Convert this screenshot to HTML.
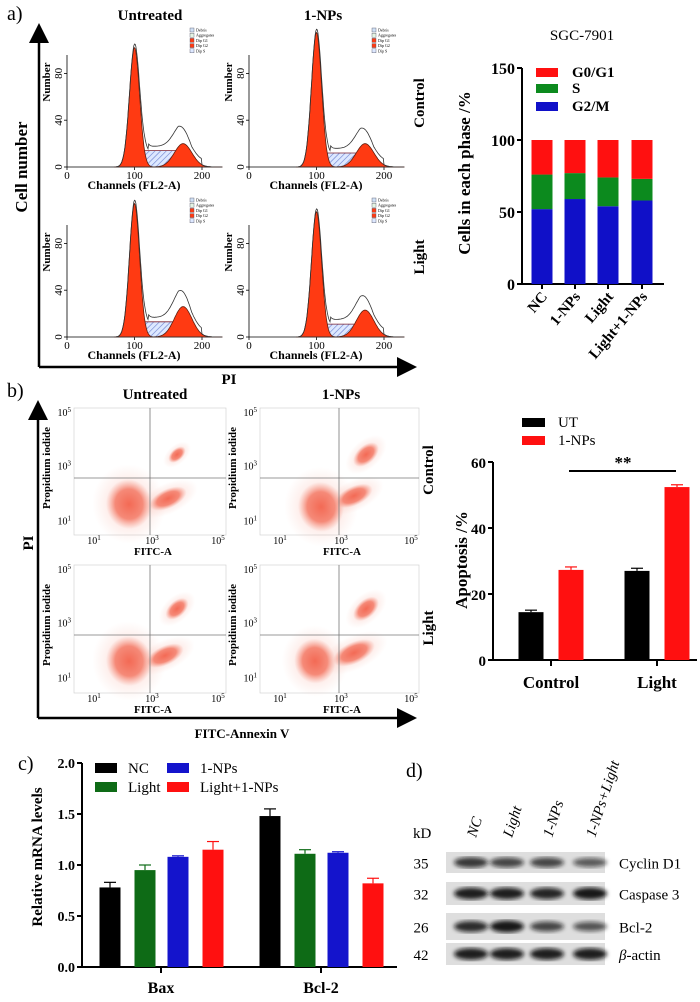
<!DOCTYPE html>
<html><head><meta charset="utf-8"><style>
html,body{margin:0;padding:0;background:#fff}
svg{display:block}
text{font-family:"Liberation Serif",serif;fill:#000}
</style></head><body>
<svg id="fig" width="700" height="1002" viewBox="0 0 700 1002" xmlns="http://www.w3.org/2000/svg">
<defs>
<pattern id="hatch" width="4" height="4" patternUnits="userSpaceOnUse" patternTransform="rotate(45)"><rect width="4" height="4" fill="#dde8ff"/><line x1="0" y1="0" x2="0" y2="4" stroke="#6a7fd0" stroke-width="1.2"/></pattern>
<radialGradient id="dotg"><stop offset="0" stop-color="#f36a55" stop-opacity="1"/><stop offset="0.6" stop-color="#f47a66" stop-opacity="0.85"/><stop offset="1" stop-color="#f7a090" stop-opacity="0"/></radialGradient>
<radialGradient id="halo"><stop offset="0" stop-color="#f59080" stop-opacity="0.45"/><stop offset="1" stop-color="#f8b0a0" stop-opacity="0"/></radialGradient>
<filter id="blur2"><feGaussianBlur stdDeviation="2.2"/></filter>
<marker id="arr" markerWidth="8" markerHeight="8" refX="6" refY="4" orient="auto"><path d="M0,0 L8,4 L0,8 z" fill="#000"/></marker>
</defs>
<g id="root"></g>
</svg>
<script>
// ---------- data ----------
const histG1Height=[102,115,114,107];
const histG2Height=[20,20,26,23];
const histSHeight=[14,12,13,11];
const phaseCats=["NC","1-NPs","Light","Light+1-NPs"];
const g2mVals=[52,59,54,58];
const sVals=[24,18,20,15];
const g01Vals=[24,23,26,27];
const stackTicks=[0,50,100,150];
const apoGroups=["Control","Light"];
const apoUT=[14.5,27.0];
const apoNP=[27.3,52.4];
const apoUTErr=[0.6,0.8];
const apoNPErr=[0.9,0.7];
const apoTicks=[0,20,40,60];
const clusterX=[[2.3,3.6,3.9],[2.4,3.5,3.9],[2.3,3.5,3.9],[2.2,3.5,3.9]];
const clusterY=[[1.6,1.8,3.4],[1.5,1.9,3.4],[1.6,1.8,3.5],[1.6,1.9,3.5]];
const clusterSize=[[1.0,0.8,0.6],[1.0,0.8,0.9],[1.0,0.8,0.8],[0.9,0.9,0.9]];
const genes=["Bax","Bcl-2"];
const mrnaSeries=["NC","Light","1-NPs","Light+1-NPs"];
const mrnaColors=["#000000","#0e6b16","#1414cc","#ff1010"];
const mrnaVals=[[0.78,0.95,1.08,1.15],[1.48,1.11,1.12,0.82]];
const mrnaErr=[[0.05,0.05,0.01,0.08],[0.07,0.04,0.01,0.05]];
const mrnaTicks=[0,0.5,1.0,1.5,2.0];
const blotLanes=["NC","Light","1-NPs","1-NPs+Light"];
const blotProteins=["Cyclin D1","Caspase 3","Bcl-2","β-actin"];
const blotKD=["35","32","26","42"];
const blotIntensity=[[0.75,0.65,0.65,0.5],[0.95,0.95,0.9,1.0],[0.85,1.0,0.65,0.55],[0.95,0.95,0.95,0.95]];

const NS="http://www.w3.org/2000/svg";
const root=document.getElementById('root');
function el(tag,attrs,parent,txt){const e=document.createElementNS(NS,tag);for(const k in attrs)e.setAttribute(k,attrs[k]);if(txt!==undefined)e.textContent=txt;(parent||root).appendChild(e);return e;}
function T(x,y,s,size,opts,name){opts=opts||{};const a={x:x,y:y,'font-size':size,'text-anchor':opts.anchor||'middle'};if(opts.bold)a['font-weight']='bold';if(opts.rot!==undefined)a.transform='rotate('+opts.rot+' '+x+' '+y+')';if(opts.italic)a['font-style']='italic';if(opts.fill)a.fill=opts.fill;if(opts.family)a['font-family']=opts.family;const t=el('text',a,opts.parent,s);return t;}
function L(x1,y1,x2,y2,w,c,name,extra){const l=el('line',Object.assign({x1:x1,y1:y1,x2:x2,y2:y2,stroke:c||'#000','stroke-width':w||1},extra||{}));return l;}
function R(x,y,w,h,f,name,extra){const r=el('rect',Object.assign({x:x,y:y,width:w,height:h,fill:f},extra||{}));return r;}
const SANS='"Liberation Sans",sans-serif';

// ---------- Panel a ----------
T(7,20,'a)',20,{anchor:'start'},'panel-a-label');
T(150,20,'Untreated',15,{bold:true},'col-title-untreated');
T(323,20,'1-NPs',15,{bold:true},'col-title-1nps');
L(39,367,39,28,2.5,'#000','cell-number-axis',{'marker-end':'url(#arr)'});
L(39,367,412,367,2.5,'#000','pi-axis',{'marker-end':'url(#arr)'});
T(27,167,'Cell number',17,{bold:true,rot:-90},'cell-number-title');
T(229,384,'PI',15,{bold:true},'pi-title');
T(424,103,'Control',15,{bold:true,rot:-90},'row-label-control');
T(424,257,'Light',15,{bold:true,rot:-90},'row-label-light');

function gauss(c,m,s,h){return h*Math.exp(-0.5*((c-m)/s)*((c-m)/s));}
const histPos=[[67,167],[249,167],[67,337],[249,337]];
histPos.forEach((p,i)=>{
  const x0=p[0],base=p[1],sx=0.675,sy=1.17;
  const X=c=>x0+c*sx, Y=v=>base-v*sy;
  L(x0,base-112,x0,base,0.8,'#000','hist-y-axis');
  L(x0,base,x0+150,base,0.8,'#000','hist-x-axis');
  [0,100,200].forEach(t=>{L(X(t),base,X(t),base+3,0.8);T(X(t),base+12,String(t),11,{},'hist-x-tick');});
  [0,40,80].forEach(t=>{L(x0-3,Y(t),x0,Y(t),0.8);T(x0-5,Y(t),String(t),11,{rot:-90},'hist-y-tick');});
  T(x0-17,base-85,'Number',11,{bold:true,rot:-90},'hist-y-title');
  T(x0+67,base+22,'Channels (FL2-A)',12,{bold:true},'hist-x-title');
  function comp(fn,fill,stroke,name){let d='M'+X(70)+','+base;for(let c=70;c<=230;c+=1){d+=' L'+X(c).toFixed(1)+','+Y(fn(c)).toFixed(1);}d+=' L'+X(230)+','+base+' Z';const pth=el('path',{d:d,fill:fill,stroke:stroke,'stroke-width':0.8});}
  const S=c=>(c>95&&c<185)?histSHeight[i]*Math.min(1,(c-95)/20,(185-c)/20):0;
  comp(S,'url(#hatch)','#7a2030','s-phase');
  comp(c=>gauss(c,100,7.5,histG1Height[i]),'#ff3a12','#602010','g1-peak');
  comp(c=>gauss(c,172,13,histG2Height[i]),'#ff3a12','#602010','g2-peak');
  comp(c=>gauss(c,100,7.5,histG1Height[i])+gauss(c,172,13,histG2Height[i])+S(c)*0.9+(c>120&&c<200?5:0),'none','#333','hist-outline');
  const lg=['Debris','Aggregates','Dip G1','Dip G2','Dip S'], lc=['#cfe0f5','#e4f5e4','#ff3a12','#ff3a12','#dde8ff'];
  lg.forEach((s,k)=>{R(x0+123,base-139+k*5.2,4,4,lc[k],'hist-legend-swatch',{stroke:'#556','stroke-width':0.4});T(x0+129,base-135.5+k*5.2,s,4,{anchor:'start',fill:'#3344cc',family:SANS},'hist-legend-text');});
});

(function(){
  const ax=522, y0=284, ppu=1.44;
  const Y=v=>y0-v*ppu;
  const cx=[542,575,608,642], bw=21;
  T(582,40,'SGC-7901',15,{},'stacked-title');
  L(ax,Y(150),ax,y0,2,'#000','stacked-y-axis');
  L(ax,y0,664,y0,2,'#000','stacked-x-axis');
  stackTicks.forEach(t=>{L(ax-5,Y(t),ax,Y(t),2);T(ax-7,Y(t)+6,String(t),16,{anchor:'end',bold:true},'stacked-y-tick');});
  T(470,173,'Cells in each phase /%',17,{bold:true,rot:-90,family:SANS},'stacked-y-title');
  phaseCats.forEach((c,i)=>{
    const b1=g2mVals[i], b2=b1+sVals[i], b3=b2+g01Vals[i];
    R(cx[i]-bw/2,Y(b1),bw,Y(0)-Y(b1),'#1010c8','bar-g2m-'+c);
    R(cx[i]-bw/2,Y(b2),bw,Y(b1)-Y(b2),'#0c8a1e','bar-s-'+c);
    R(cx[i]-bw/2,Y(b3),bw,Y(b2)-Y(b3),'#ff1010','bar-g0g1-'+c);
    L(cx[i],y0,cx[i],y0+5,2);
    T(cx[i]+6,y0+13,c,15,{anchor:'end',bold:true,rot:-50},'stacked-x-label');
  });
  const lg=[['G0/G1','#ff1010'],['S','#0c8a1e'],['G2/M','#1010c8']], ly=[68,84,102];
  lg.forEach((l,k)=>{R(536,ly[k],22,9,l[1],'legend-swatch-'+l[0]);T(572,ly[k]+9,l[0],15,{anchor:'start',bold:true},'legend-label');});
})();

// ---------- Panel b ----------
T(7,397,'b)',20,{anchor:'start'},'panel-b-label');
T(155,399,'Untreated',15,{bold:true},'col-title-untreated-b');
T(341,399,'1-NPs',15,{bold:true},'col-title-1nps-b');
L(38,718,38,405,2.5,'#000','pi-axis-b',{'marker-end':'url(#arr)'});
L(38,718,412,718,2.5,'#000','fitc-axis',{'marker-end':'url(#arr)'});
T(33,543,'PI',15,{bold:true,rot:-90},'pi-title-b');
T(242,738,'FITC-Annexin V',13,{bold:true,family:SANS},'fitc-title');
T(433,470,'Control',15,{bold:true,rot:-90},'row-label-control-b');
T(433,628,'Light',15,{bold:true,rot:-90},'row-label-light-b');

const dotBoxes=[[74,408,226,535,150,478],[260,408,419,535,339,478],[74,565,226,693,150,635],[260,565,419,693,339,635]];
dotBoxes.forEach((bx,i)=>{
  const [x1,y1,x2,y2,vx,hy]=bx;
  const ppx=30, ppy=27.5;
  const X=l=>vx+(l-3)*ppx, Y=l=>hy+(2.55-l)*ppy;
  R(x1,y1,x2-x1,y2-y1,'#fff','dot-plot-frame',{stroke:'#ccc','stroke-width':0.6});
  const rx0=[23,25,17], ry0=[25,12,10], rot=[-10,-25,-42];
  for(let k=0;k<3;k++){
    const s=clusterSize[i][k], cx=X(clusterX[i][k]), cy=Y(clusterY[i][k]);
    const h=el('ellipse',{cx:cx,cy:cy,rx:rx0[k]*s*1.6,ry:ry0[k]*s*1.6,fill:'url(#halo)',transform:'rotate('+rot[k]+' '+cx+' '+cy+')'});
    
    
    const e=el('ellipse',{cx:cx,cy:cy,rx:rx0[k]*s,ry:ry0[k]*s,fill:'url(#dotg)',transform:'rotate('+rot[k]+' '+cx+' '+cy+')'});
    
    
  }
  L(vx,y1,vx,y2,0.8,'#777','quadrant-v');
  L(x1,hy,x2,hy,0.8,'#777','quadrant-h');
  [[5,y1+4],[3,Y(3)],[1,Y(1)]].forEach(t=>{const tt=T(x1-3,t[1]+4,'10',10,{anchor:'end'},'dot-y-tick');el('tspan',{dy:-4,'font-size':7},tt,String(t[0]));});
  [1,3,5].forEach(l=>{const xx=l==1?x1+20:l==3?vx+2:x2-8;const tt=T(xx,y2+9,'10',10,{},'dot-x-tick');el('tspan',{dy:-4,'font-size':7},tt,String(l));});
  T(vx+3,y2+20,'FITC-A',11,{bold:true},'dot-x-title');
  T(x1-24,hy-10,'Propidium iodide',11,{bold:true,rot:-90},'dot-y-title');
});

(function(){
  const ax=493, y0=660, ppu=3.3;
  const Y=v=>y0-v*ppu;
  const gx=[551,657], off=20, bw=25;
  L(ax,Y(60),ax,y0,2,'#000','apo-y-axis');
  L(ax,y0,697,y0,2,'#000','apo-x-axis');
  apoTicks.forEach(t=>{L(ax-5,Y(t),ax,Y(t),2);T(ax-7,Y(t)+6,String(t),15,{anchor:'end',bold:true},'apo-y-tick');});
  T(467,560,'Apoptosis /%',17,{bold:true,rot:-90,family:SANS},'apo-y-title');
  apoGroups.forEach((gname,i)=>{
    const xu=gx[i]-off, xn=gx[i]+off;
    L(xu,Y(apoUT[i]+apoUTErr[i]),xu,Y(apoUT[i]),1.2);L(xu-6,Y(apoUT[i]+apoUTErr[i]),xu+6,Y(apoUT[i]+apoUTErr[i]),1.2);
    R(xu-bw/2,Y(apoUT[i]),bw,Y(0)-Y(apoUT[i]),'#000','bar-ut-'+gname);
    L(xn,Y(apoNP[i]+apoNPErr[i]),xn,Y(apoNP[i]),1.2,'#ff1010');L(xn-6,Y(apoNP[i]+apoNPErr[i]),xn+6,Y(apoNP[i]+apoNPErr[i]),1.2,'#ff1010');
    R(xn-bw/2,Y(apoNP[i]),bw,Y(0)-Y(apoNP[i]),'#ff1010','bar-1nps-'+gname);
    L(gx[i],y0,gx[i],y0+6,2);
    T(gx[i],y0+28,gname,17,{bold:true},'apo-x-label');
  });
  R(522,418,23,9,'#000','legend-swatch-ut');T(558,427,'UT',15,{anchor:'start'},'legend-label-ut');
  R(522,436,23,9,'#ff1010','legend-swatch-1nps');T(558,445,'1-NPs',15,{anchor:'start'},'legend-label-1nps');
  L(569,471,676,471,2,'#000','significance-line');
  T(623,468,'**',17,{bold:true},'significance-mark');
})();

// ---------- Panel c ----------
(function(){
  T(18,770,'c)',20,{anchor:'start'},'panel-c-label');
  const ax=82, y0=967, ppu=102;
  const Y=v=>y0-v*ppu;
  const gx=[161,321], bx=[-51,-16,17,52], bw=21;
  L(ax,Y(2),ax,y0,2,'#000','mrna-y-axis');
  L(ax,y0,397,y0,2,'#000','mrna-x-axis');
  mrnaTicks.forEach(t=>{L(ax-5,Y(t),ax,Y(t),2);T(ax-7,Y(t)+5,t.toFixed(1),14,{anchor:'end',bold:true},'mrna-y-tick');});
  T(42,857,'Relative mRNA levels',15,{bold:true,rot:-90,family:SANS},'mrna-y-title');
  genes.forEach((gn,i)=>{
    mrnaSeries.forEach((s,k)=>{
      const v=mrnaVals[i][k], e=mrnaErr[i][k], x=gx[i]+bx[k];
      L(x,Y(v+e),x,Y(v),1.2,mrnaColors[k]);L(x-6,Y(v+e),x+6,Y(v+e),1.2,mrnaColors[k]);
      R(x-bw/2,Y(v),bw,Y(0)-Y(v),mrnaColors[k],'bar-'+gn+'-'+s);
    });
    L(gx[i],y0,gx[i],y0+6,2);
    T(gx[i],y0+26,gn,16,{bold:true},'mrna-x-label');
  });
  const lx=[95,167], lxt=[128,200], ly=[763,782];
  mrnaSeries.forEach((s,k)=>{const col=k==0||k==1?0:1;const row=k==0||k==2?0:1;
    R(lx[col],ly[row],22,10,mrnaColors[k],'legend-swatch-'+s);T(lxt[col],ly[row]+10,s,15,{anchor:'start'},'legend-label');});
})();

// ---------- Panel d ----------
(function(){
  T(406,777,'d)',20,{anchor:'start'},'panel-d-label');
  T(413,838,'kD',15,{anchor:'start'},'kd-label');
  const lx=[471,507,547,590];
  blotLanes.forEach((l,i)=>T(lx[i]+5,838,l,15,{anchor:'start',italic:true,rot:-72},'lane-label'));
  const rows=[[852,873],[882,905],[913,940],[943,965]];
  blotProteins.forEach((p,r)=>{
    const [a,b]=rows[r];
    R(446,a,159,b-a,'#dedede','blot-strip-'+p);
    const gb=el('g',{filter:'url(#blur2)'});
    blotLanes.forEach((l,i)=>{const it=blotIntensity[r][i];const e=el('ellipse',{cx:lx[i],cy:(a+b)/2,rx:17,ry:3+3*it,fill:'#111','fill-opacity':0.35+0.6*it},gb);});
    T(421,(a+b)/2+6,blotKD[r],15,{},'kd-value');
    if(p==='β-actin'){const t=T(619,(a+b)/2+6,'',15,{anchor:'start'},'protein-label');el('tspan',{'font-style':'italic'},t,'β');el('tspan',{},t,'-actin');}
    else T(619,(a+b)/2+6,p,15,{anchor:'start'},'protein-label');
  });
})();
</script>
</body></html>
